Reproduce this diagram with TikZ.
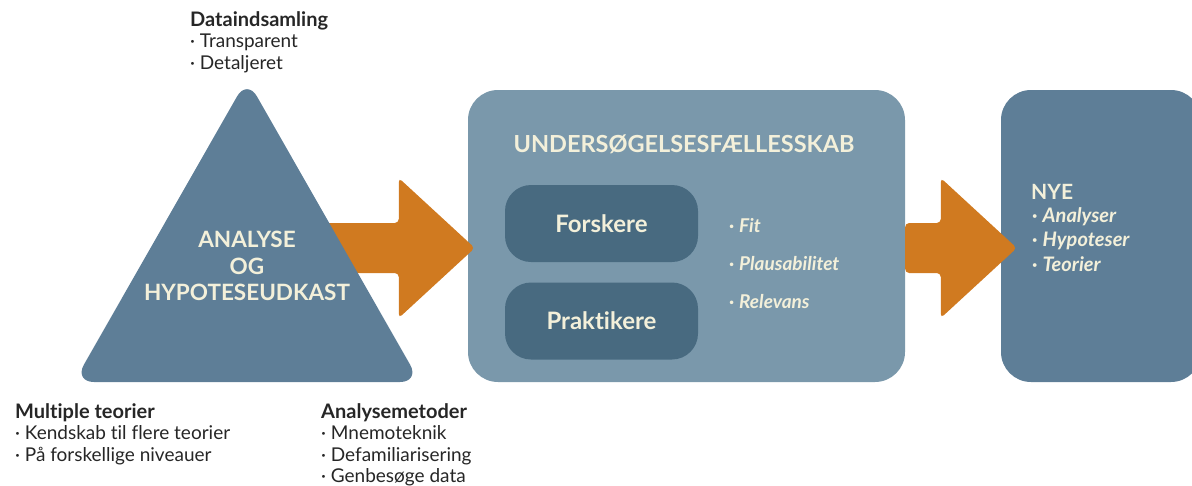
\documentclass[tikz,border=0pt]{standalone}
\usepackage{fontspec}
\setmainfont{Lato}[Ligatures=NoCommon]
\usetikzlibrary{calc}

\definecolor{triblue}{HTML}{5E7E97}
\definecolor{boxblue}{HTML}{7A98AB}
\definecolor{roleblue}{HTML}{486A80}
\definecolor{arroworange}{HTML}{D07A20}
\definecolor{cream}{HTML}{F3F0DA}
\definecolor{darktext}{HTML}{262626}

% fat arrow from shaft start #1 to tip #2
\def\fatArrow#1#2{\fill[arroworange, rounded corners=4pt] ($(#1)+(0,-25)$) -- ($(#2)+(-76,-25)$) -- ($(#2)+(-76,-70)$) -- (#2) -- ($(#2)+(-76,70)$) -- ($(#2)+(-76,25)$) -- ($(#1)+(0,25)$) -- cycle;}
\def\bul{·\hspace{0.25em}}
\def\noteHead#1{{\fontsize{20}{21.5}\selectfont\bfseries #1}}

\begin{document}
\begin{tikzpicture}[x=1pt, y=-1pt,
	bigbox/.style={fill=#1, rounded corners=30pt, inner sep=0pt},
	rolebox/.style={fill=roleblue, rounded corners=26pt, minimum width=193pt, minimum height=77pt, inner sep=0pt, text=cream, font=\fontsize{24}{28}\selectfont\bfseries},
	headline/.style={text=cream, font=\fontsize{23.5}{28}\selectfont\bfseries, inner sep=0pt},
	bullets/.style={text=cream, font=\fontsize{19}{#1}\selectfont\bfseries\itshape, align=left, anchor=north west, inner sep=0pt},
	note/.style={text=darktext, font=\fontsize{19}{21.5}\selectfont, align=left, anchor=north west, inner sep=0pt}]
		\path[use as bounding box, clip] (0,0) rectangle (1192,485);
		
		% boxes
		\node[bigbox=boxblue, minimum width=437pt, minimum height=292pt] (faelles) at (686.5,236) {};
		\node[bigbox=triblue, minimum width=200pt, minimum height=292pt] (nye) at (1101,236) {};
		
		% arrows
		\coordinate (a1start) at (300,248);
		\coordinate (a1tip) at ($(faelles.west)+(7,12)$);
		\fatArrow{a1start}{a1tip}
		
		\coordinate (a2start) at ($(faelles.east)+(0,12)$);
		\coordinate (a2tip) at ($(nye.west)+(16,12)$);
		\fatArrow{a2start}{a2tip}
		
		% triangle
		\fill[triblue, rounded corners=20pt] (247,79) -- (420,382) -- (74,382) -- cycle;
		\node[text=cream, font=\fontsize{22.5}{26.5}\selectfont\bfseries, align=center] (analyse) at (247,266) {ANALYSE\\OG\\HYPOTESEUDKAST};
		
		% faellesskab
		\node[headline, anchor=base] (ufl) at (684,152) {UNDERSØGELSESFÆLLESSKAB};
		\node[rolebox] (forskere) at (601.5,223.5) {Forskere};
		\node[rolebox] (praktikere) at (601.5,321) {Praktikere};
		\node[bullets=38] (kriterier) at (729,218) {\bul Fit\\\bul Plausabilitet\\\bul Relevans};
		
		% nye
		\node[headline, anchor=north west, font=\fontsize{21}{25}\selectfont\bfseries] (nyetitle) at (1031,184) {NYE};
		\node[bullets=24.7, font=\fontsize{20}{24.7}\selectfont\bfseries\itshape] (nyeliste) at (1032,207) {\bul Analyser\\\bul Hypoteser\\\bul Teorier};
		
		% notes
		\node[note] (data) at (190,11) {\noteHead{Dataindsamling}\\\bul Transparent\\\bul Detaljeret};
		\node[note] (teorier) at (15,403) {\noteHead{Multiple teorier}\\\bul Kendskab til flere teorier\\\bul På forskellige niveauer};
		\node[note] (metoder) at (321,403) {\noteHead{Analysemetoder}\\\bul Mnemoteknik\\\bul Defamiliarisering\\\bul Genbesøge data};
\end{tikzpicture}
\end{document}
